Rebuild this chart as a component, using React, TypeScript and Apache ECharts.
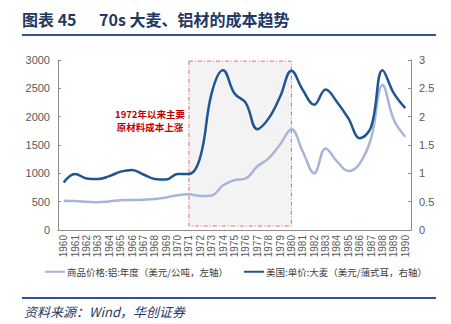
import React, { useEffect, useRef } from "react";
import * as echarts from "echarts";

const years = [
  "1960","1961","1962","1963","1964","1965","1966","1967","1968","1969",
  "1970","1971","1972","1973","1974","1975","1976","1977","1978","1979",
  "1980","1981","1982","1983","1984","1985","1986","1987","1988","1989","1990",
];
const aluminum = [
  515, 510, 500, 490, 505, 525, 530, 535, 545, 575,
  615, 630, 600, 610, 790, 880, 910, 1120, 1265, 1510,
  1780, 1380, 1000, 1440, 1210, 1040, 1175, 1620, 2560, 1940, 1645,
];
const barley = [
  0.84, 0.99, 0.91, 0.9, 0.95, 1.03, 1.06, 0.98, 0.9, 0.89,
  0.99, 0.99, 1.29, 2.42, 2.82, 2.41, 2.24, 1.78, 1.97, 2.35,
  2.81, 2.47, 2.21, 2.48, 2.26, 1.97, 1.62, 1.82, 2.82, 2.41, 2.15,
];
const leftTicks = [0, 3000, 500];
const rightTicks = [0, 3, 0.5];
const seriesNames = [
  "商品价格:铝:年度（美元/公吨，左轴）",
  "美国:单价:大麦（美元/蒲式耳，右轴）",
];
const shadeRange = ["1971", "1980"];

const NAVY = "#1f3864";
const LINE = "#2f5597";
const AXIS = "#8c8c8c";
const LABEL = "#595959";

export default function App() {
  const ref = useRef<HTMLDivElement>(null);
  useEffect(() => {
    if (!ref.current) return;
    const chart = echarts.init(ref.current, null, { renderer: "svg" });
    chart.setOption({
      animation: false,
      backgroundColor: "#ffffff",
      grid: { left: 58, right: 40, top: 60, bottom: 94, containLabel: false },
      graphic: [
        {
          type: "text", left: 22, top: 11, z: 100,
          style: { text: "图表 45", font: "bold 16px 'Noto Sans CJK SC'", fill: NAVY },
        },
        {
          type: "text", left: 99, top: 11, z: 100,
          style: { text: "70s 大麦、铝材的成本趋势", font: "bold 16px 'Noto Sans CJK SC'", fill: NAVY },
        },
        {
          type: "line", z: 100,
          shape: { x1: 22, y1: 35, x2: 436, y2: 35 },
          style: { stroke: LINE, lineWidth: 2 },
        },
        {
          type: "line", z: 100,
          shape: { x1: 22, y1: 298, x2: 436, y2: 298 },
          style: { stroke: LINE, lineWidth: 2 },
        },
        {
          type: "text", left: 24, top: 305, z: 100,
          style: { text: "资料来源：Wind，华创证券", font: "italic 13px 'Noto Sans CJK SC'", fill: NAVY },
        },
        {
          type: "text", x: 150, y: 107, z: 100,
          style: {
            text: "1972年以来主要\n原材料成本上涨",
            font: "bold 9.5px 'Noto Sans CJK SC'",
            fill: "#c00000",
            align: "center",
            lineHeight: 13,
          },
        },
      ],
      legend: {
        left: 40,
        top: 262,
        itemWidth: 20,
        itemHeight: 2,
        itemGap: 16,
        icon: "rect",
        textStyle: { fontSize: 9.5, color: "#404040", fontFamily: "'Noto Sans CJK SC'", padding: [0, 0, 0, -3] },
        data: seriesNames,
      },
      xAxis: {
        type: "category",
        data: years,
        boundaryGap: true,
        axisLine: { lineStyle: { color: AXIS } },
        axisTick: { inside: true, length: 3, lineStyle: { color: AXIS } },
        axisLabel: {
          rotate: 90, interval: 0, fontSize: 10, color: LABEL,
          fontFamily: "'Liberation Sans', Arial", margin: 5,
        },
      },
      yAxis: [
        {
          type: "value",
          min: leftTicks[0], max: leftTicks[1], interval: leftTicks[2],
          splitLine: { show: false },
          axisLine: { show: true, lineStyle: { color: AXIS } },
          axisTick: { show: true, inside: true, length: 3, lineStyle: { color: AXIS } },
          axisLabel: {
            fontSize: 11, color: LABEL, fontFamily: "'Liberation Sans', Arial", margin: 8,
            formatter: (v: number) => String(v),
          },
        },
        {
          type: "value",
          min: rightTicks[0], max: rightTicks[1], interval: rightTicks[2],
          position: "right",
          splitLine: { show: false },
          axisLine: { show: true, lineStyle: { color: AXIS } },
          axisTick: { show: true, inside: true, length: 3, lineStyle: { color: AXIS } },
          axisLabel: {
            fontSize: 11, color: LABEL, fontFamily: "'Liberation Sans', Arial", margin: 8,
            formatter: (v: number) => String(v),
          },
        },
      ],
      series: [
        {
          name: seriesNames[0],
          type: "line",
          yAxisIndex: 0,
          data: aluminum,
          smooth: 0.4,
          symbol: "none",
          z: 3,
          lineStyle: { color: "#a8b5d8", width: 2.5 },
          itemStyle: { color: "#a8b5d8" },
          markArea: {
            silent: true,
            itemStyle: {
              color: "#f3f3f3",
              borderColor: "#e06b6b",
              borderWidth: 1,
              borderType: [4, 2, 1, 2],
            },
            data: [[
              { xAxis: shadeRange[0], yAxis: 2980 },
              { xAxis: shadeRange[1], yAxis: 70 },
            ]],
          },
        },
        {
          name: seriesNames[1],
          type: "line",
          yAxisIndex: 1,
          data: barley,
          smooth: 0.4,
          symbol: "none",
          z: 4,
          lineStyle: { color: "#1f5591", width: 2.5 },
          itemStyle: { color: "#1f5591" },
        },
      ],
    });
    return () => chart.dispose();
  }, []);
  return (
    <div
      ref={ref}
      style={{ position: "fixed", left: 0, top: 0, width: 451, height: 324, background: "#fff" }}
    />
  );
}
